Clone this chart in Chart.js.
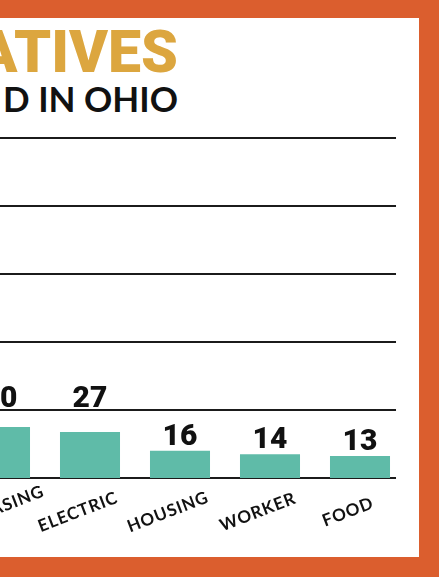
<!DOCTYPE html>
<html>
<head>
<meta charset="utf-8">
<script src="https://cdn.jsdelivr.net/npm/chart.js@4"></script>
<style>
  html, body { margin: 0; padding: 0; }
  body { width: 439px; height: 577px; position: relative; overflow: hidden; background: #DB5E2E; font-family: "Lato", sans-serif; }
  #panel { position: absolute; left: 0; top: 18px; width: 419px; height: 539px; background: #ffffff; }
  #t1 { position: absolute; right: 261px; top: 22px; white-space: nowrap; font-family: "Roboto", sans-serif; font-size: 59px; line-height: 60px; font-weight: 900; color: #DCA63F; letter-spacing: 0px; }
  #t2 { position: absolute; right: 261px; top: 80px; white-space: nowrap; font-size: 35px; line-height: 36px; font-weight: 700; color: #111111; }
  #wrap { position: absolute; left: -45px; top: 0; width: 450px; height: 577px; }
</style>
</head>
<body>
<div id="panel"></div>
<div id="t1">ATIVES</div>
<div id="t2">D IN OHIO</div>
<div id="wrap"><canvas id="c"></canvas></div>
<script>
const categories = ["PURCHASING", "ELECTRIC", "HOUSING", "WORKER", "FOOD"];
const values = [30, 27, 16, 14, 13];
const gridTicks = [0, 40, 80, 120, 160, 200];

const gridPlugin = {
  id: 'gridLines',
  beforeDatasetsDraw(chart) {
    const ctx = chart.ctx, y = chart.scales.y, ca = chart.chartArea;
    const meta = chart.getDatasetMeta(0);
    const last = meta.data[meta.data.length - 1];
    const right = last.x + last.width / 2 + 6;
    ctx.save();
    ctx.strokeStyle = '#1b1b1b';
    ctx.lineWidth = 2;
    y.ticks.forEach(t => {
      const py = Math.round(y.getPixelForValue(t.value));
      ctx.beginPath();
      ctx.moveTo(ca.left, py);
      ctx.lineTo(right, py);
      ctx.stroke();
    });
    ctx.restore();
  }
};

const labelPlugin = {
  id: 'labels',
  afterDatasetsDraw(chart) {
    const ctx = chart.ctx, y = chart.scales.y, x = chart.scales.x;
    const meta = chart.getDatasetMeta(0);
    const base = y.getPixelForValue(0);
    ctx.save();
    ctx.font = '900 30px Roboto';
    ctx.fillStyle = '#111111';
    ctx.textAlign = 'center';
    ctx.textBaseline = 'alphabetic';
    meta.data.forEach((bar, i) => {
      const txt = String(values[i]);
      const h = ctx.measureText(txt).actualBoundingBoxAscent;
      let bottom = bar.y - 6;
      const above = y.ticks.map(t => y.getPixelForValue(t.value)).filter(p => p < bar.y - 1);
      const lineY = above.length ? Math.max(...above) : -Infinity;
      if (bottom - h < lineY + 4) bottom = lineY - 3;
      ctx.fillText(txt, bar.x, bottom);
    });
    ctx.font = '700 17px Lato';
    ctx.letterSpacing = '0.9px';
    ctx.textBaseline = 'middle';
    categories.forEach((c, i) => {
      const px = x.getPixelForValue(i);
      ctx.save();
      ctx.translate(px - 12, base + 34);
      ctx.rotate(-21 * Math.PI / 180);
      ctx.fillText(c, 0, 0);
      ctx.restore();
    });
    ctx.restore();
  }
};

new Chart(document.getElementById('c'), {
  type: 'bar',
  data: {
    labels: categories,
    datasets: [{
      data: values,
      backgroundColor: '#5FBBA8',
      borderWidth: 0,
      categoryPercentage: 1,
      barPercentage: 0.667
    }]
  },
  options: {
    responsive: true,
    maintainAspectRatio: false,
    animation: false,
    layout: { padding: { top: 138, bottom: 99, left: 0, right: 0 } },
    plugins: { legend: { display: false }, tooltip: { enabled: false } },
    scales: {
      x: { display: false },
      y: {
        display: false,
        min: 0, max: 200,
        afterBuildTicks: s => { s.ticks = gridTicks.map(v => ({ value: v })); }
      }
    }
  },
  plugins: [gridPlugin, labelPlugin]
});
</script>
</body>
</html>
